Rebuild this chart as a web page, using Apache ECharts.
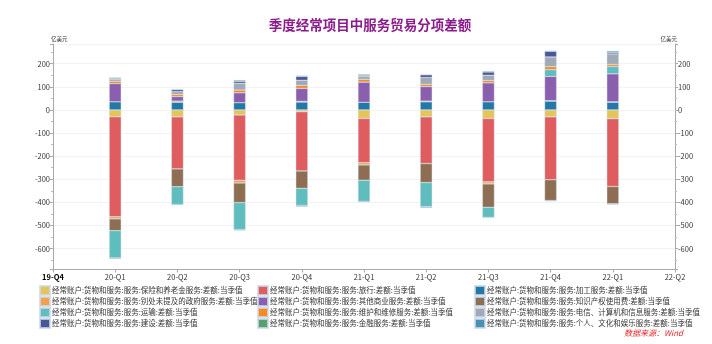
<!DOCTYPE html>
<html>
<head>
<meta charset="utf-8">
<script src="https://cdn.jsdelivr.net/npm/echarts@6/dist/echarts.min.js"></script>
<style>
html,body{margin:0;padding:0;background:#fff;}
#chart{width:712px;height:344px;}
</style>
</head>
<body>
<div id="chart"></div>
<script>
var categories = ['19-Q4','20-Q1','20-Q2','20-Q3','20-Q4','21-Q1','21-Q2','21-Q3','21-Q4','22-Q1','22-Q2'];
var seriesNames = [
  '经常账户:货物和服务:服务:保险和养老金服务:差额:当季值',
  '经常账户:货物和服务:服务:旅行:差额:当季值',
  '经常账户:货物和服务:服务:加工服务:差额:当季值',
  '经常账户:货物和服务:服务:别处未提及的政府服务:差额:当季值',
  '经常账户:货物和服务:服务:其他商业服务:差额:当季值',
  '经常账户:货物和服务:服务:知识产权使用费:差额:当季值',
  '经常账户:货物和服务:服务:运输:差额:当季值',
  '经常账户:货物和服务:服务:维护和维修服务:差额:当季值',
  '经常账户:货物和服务:服务:电信、计算机和信息服务:差额:当季值',
  '经常账户:货物和服务:服务:建设:差额:当季值',
  '经常账户:货物和服务:服务:金融服务:差额:当季值',
  '经常账户:货物和服务:服务:个人、文化和娱乐服务:差额:当季值'
];
var insurance   = [null, -30, -30, -22, -8, -37, -30, -37, -30, -38, null];
var travel      = [null, -432, -225, -282, -256, -191, -202, -274, -272, -293, null];
var processing  = [null, 35, 33, 31, 34, 33, 35, 35, 38, 33, null];
var government  = [null, -9, 5, -12, 3, -10, 3, -9, 2, 2, null];
var otherBiz    = [null, 79, 20, 43, 56, 87, 63, 82, 105, 121, null];
var ipCharges   = [null, -51, -77, -85, -75, -66, -82, -101, -90, -75, null];
var transport   = [null, -118, -77, -116, -74, -91, -104, -43, 29, 32, null];
var maintenance = [null, 10, 9, 12, 13, 12, 10, 10, 13, 9, null];
var telecom     = [null, 8, 12, 29, 22, 13, 29, 23, 42, 45, null];
var construction= [null, 3, 9, 9, 17, 5, 12, 14, 25, 7, null];
var financial   = [null, 5, 1, 5, 3, 4, 1, 4, 1, 6, null];
var personal    = [null, -4, -3, -4, -5, -4, -5, -3, -3, -3, null];

var seriesData = [insurance, travel, processing, government, otherBiz, ipCharges, transport, maintenance, telecom, construction, financial, personal];
var colors = ['#E5C45A','#E05D5F','#2378A6','#F5A04D','#8A60AE','#8E6E53','#5FBEBD','#F78A1F','#A0AAB6','#4A5796','#5B9E6E','#4B8FB8'];

var FONT = '"Noto Sans CJK SC", "Noto Sans", sans-serif';
var chart = echarts.init(document.getElementById('chart'));

var series = seriesData.map(function(d, i){
  return {
    name: seriesNames[i], type: 'bar', stack: 'total', data: d,
    barWidth: 12, xAxisIndex: 0, yAxisIndex: 0,
    itemStyle: {color: colors[i], borderColor: 'rgba(205,218,232,0.8)', borderWidth: 0.5},
    emphasis: {disabled: true}
  };
});

function legendCol(left, idx){
  return {
    orient: 'vertical', left: left, top: 285, height: 59, padding: 0,
    itemWidth: 10, itemHeight: 9, itemGap: 0, icon: 'rect',
    data: idx.map(function(k){return seriesNames[k];}),
    textStyle: {fontSize: 7.5, lineHeight: 9, color: '#333', fontFamily: FONT, padding: [0,0,0,-3]},
    selectedMode: false
  };
}

function yAxisDef(pos){
  return {
    type: 'value', position: pos, min: -690, max: 285, splitNumber: 10,
    name: '亿美元', nameLocation: 'end', nameGap: 2,
    nameTextStyle: {fontSize: 5.5, color: '#333', fontFamily: FONT, align: pos === 'left' ? 'left' : 'right', padding: pos === 'left' ? [0,0,0,-2] : [0,-2,0,0]},
    axisLine: {show: true, lineStyle: {color: '#AAAAAA', width: 1}},
    axisTick: {show: true, length: 3, lineStyle: {color: '#AAAAAA'}},
    minorTick: {show: true, splitNumber: 2, length: 2, lineStyle: {color: '#BBBBBB'}},
    axisLabel: {fontSize: 7.5, color: '#333', fontFamily: FONT, margin: 3, showMinLabel: false, showMaxLabel: false},
    splitLine: {show: pos === 'left', lineStyle: {color: '#F3F3F3', width: 1}}
  };
}

chart.setOption({
  backgroundColor: '#fff',
  animation: false,
  color: colors,
  title: {
    text: '季度经常项目中服务贸易分项差额', left: 365, top: 13, textAlign: 'center',
    textStyle: {fontSize: 13.5, fontWeight: 'bold', color: '#8B1C8B', fontFamily: FONT}
  },
  legend: [legendCol(39, [0,3,6,9]), legendCol(257, [1,4,7,10]), legendCol(474, [2,5,8,11])],
  grid: {left: 53, right: 37, top: 44, bottom: 74.5},
  xAxis: {
    type: 'category', data: categories, boundaryGap: false,
    axisLine: {onZero: false, lineStyle: {color: '#AAAAAA', width: 1}},
    axisTick: {show: true, length: 3, lineStyle: {color: '#AAAAAA'}},
    axisLabel: {
      fontSize: 7.5, color: '#333', fontFamily: FONT, margin: 4, interval: 0,
      formatter: function(v, i){ return i === 0 ? '{b|' + v + '}' : v; },
      rich: {b: {fontWeight: 'bold', fontSize: 7.5, color: '#000', fontFamily: FONT}}
    }
  },
  yAxis: [yAxisDef('left'), yAxisDef('right')],
  series: series,
  graphic: [{
    type: 'text', right: 29, top: 329,
    style: {text: '数据来源：Wind', fontSize: 8, fontStyle: 'italic', fill: '#E8262A', fontFamily: FONT}
  }]
});
</script>
</body>
</html>
